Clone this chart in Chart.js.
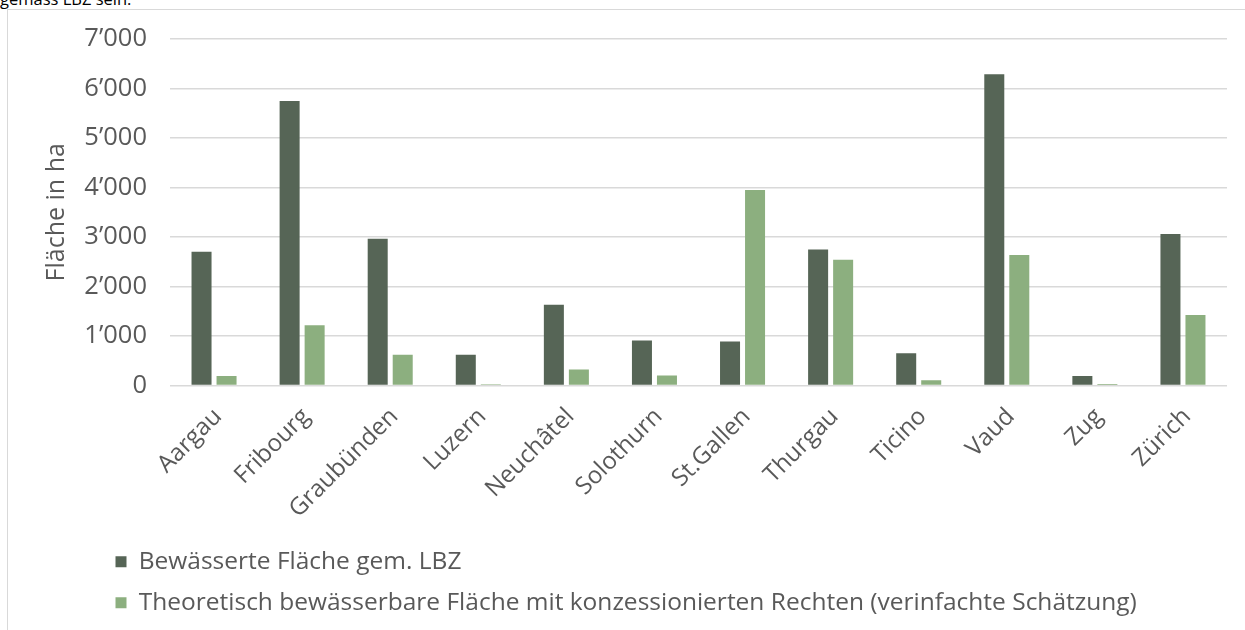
<!DOCTYPE html>
<html>
<head>
<meta charset="utf-8">
<script src="https://cdn.jsdelivr.net/npm/chart.js@4.4.1/dist/chart.umd.min.js"></script>
<style>
  html, body { margin: 0; padding: 0; background: #fff; }
  #wrap { position: relative; width: 1245px; height: 630px; overflow: hidden; }
  #frame { position: absolute; left: 7px; top: 9px; right: -2px; bottom: -2px; border-left: 1px solid #d9d9d9; border-top: 1px solid #d9d9d9; pointer-events: none; }
  #cut { position: absolute; left: 0; top: -11px; line-height: 20px; font-family: "Open Sans", sans-serif; font-size: 16.5px; color: #000; white-space: nowrap; }
  canvas { position: absolute; left: 0; top: 0; }
</style>
</head>
<body>
<div id="wrap">
  <div id="cut">gemäss LBZ sein.</div>
  <canvas id="c" width="1245" height="630"></canvas>
  <div id="frame"></div>
</div>
<script>
const categories = ["Aargau", "Fribourg", "Graubünden", "Luzern", "Neuchâtel", "Solothurn", "St.Gallen", "Thurgau", "Ticino", "Vaud", "Zug", "Zürich"];
const seriesNames = ["Bewässerte Fläche gem. LBZ", "Theoretisch bewässerbare Fläche mit konzessionierten Rechten (verinfachte Schätzung)"];
const irrigatedLBZ = [2700, 5750, 2965, 620, 1630, 910, 890, 2745, 650, 6290, 190, 3060];
const concessionEstimate = [190, 1215, 620, 25, 325, 200, 3950, 2540, 105, 2635, 30, 1425];
const yTicks = [0, 1000, 2000, 3000, 4000, 5000, 6000, 7000];
const yAxisTitle = "Fläche in ha";

const FONT = "'Open Sans', sans-serif";
const TEXT = "#595959";

function fmt(v) {
  return String(v).replace(/\B(?=(\d{3})+(?!\d))/g, "\u2019");
}

const legendShift = {
  id: "legendShift",
  afterLayout(chart) {
    const lg = chart.legend;
    if (lg) { lg.left += 59; lg.right += 59; }
  }
};

new Chart(document.getElementById("c"), {
  type: "bar",
  data: {
    labels: categories,
    datasets: [
      { label: seriesNames[0], data: irrigatedLBZ, backgroundColor: "#566556", categoryPercentage: 0.568, barPercentage: 0.8 },
      { label: seriesNames[1], data: concessionEstimate, backgroundColor: "#8caf7f", categoryPercentage: 0.568, barPercentage: 0.8 }
    ]
  },
  options: {
    responsive: false,
    animation: false,
    layout: { padding: { left: 40, right: 18, top: 39, bottom: 5 } },
    plugins: {
      tooltip: { enabled: false },
      legend: {
        position: "bottom",
        align: "start",
        labels: {
          color: TEXT,
          font: { family: FONT, size: 24.5 },
          boxWidth: 11,
          boxHeight: 11,
          padding: 16.5
        }
      }
    },
    scales: {
      x: {
        grid: { display: false },
        border: { display: false },
        ticks: {
          color: TEXT,
          font: { family: FONT, size: 24 },
          minRotation: 45,
          maxRotation: 45,
          autoSkip: false,
          padding: 9,
          labelOffset: 4
        },
        afterFit(scale) { scale.height = 147.5; }
      },
      y: {
        min: 0,
        max: 7000,
        afterBuildTicks(scale) { scale.ticks = yTicks.map(v => ({ value: v })); },
        grid: { color: "#d9d9d9", lineWidth: 1.4, drawTicks: false },
        border: { display: false },
        ticks: {
          color: TEXT,
          font: { family: FONT, size: 25.5 },
          padding: 23,
          callback: v => fmt(v)
        },
        title: {
          display: true,
          text: yAxisTitle,
          color: TEXT,
          font: { family: FONT, size: 25 },
          padding: { top: 2, bottom: 0 }
        },
        afterFit(scale) { scale.width = 130; }
      }
    }
  },
  plugins: [legendShift]
});
</script>
</body>
</html>
